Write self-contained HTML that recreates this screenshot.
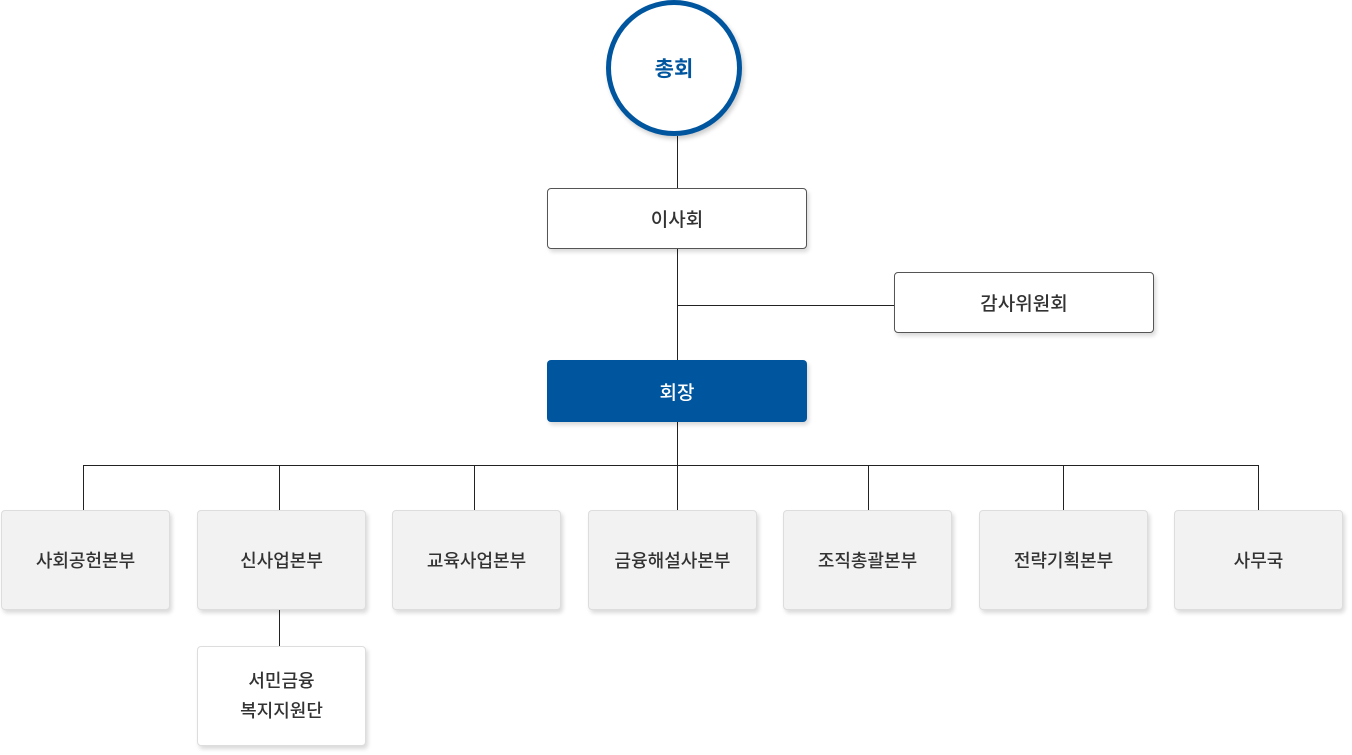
<!DOCTYPE html>
<html><head><meta charset="utf-8"><style>
body{margin:0;width:1352px;height:755px;background:#fff;position:relative;overflow:hidden;font-family:"Liberation Sans","Noto Sans CJK KR",sans-serif;}
.a{position:absolute;box-sizing:border-box;display:flex;align-items:center;justify-content:center;text-align:center;}
.w{background:#fff;border:1px solid #555;border-radius:4px;box-shadow:2px 3px 4px rgba(0,0,0,.15);font-size:19px;color:#333;font-weight:500}
.g{background:#f2f2f2;border:1px solid #ddd;border-radius:4px;box-shadow:2px 3px 4px rgba(0,0,0,.15);font-size:18px;color:#333;width:169px;height:100px;top:510px;font-weight:500}
.l{position:absolute;background:#222}
</style></head><body>
<div class="l" style="left:677px;top:136px;width:1px;height:52px"></div>
<div class="l" style="left:677px;top:248px;width:1px;height:112px"></div>
<div class="l" style="left:677px;top:305px;width:217px;height:1px"></div>
<div class="l" style="left:677px;top:421px;width:1px;height:89px"></div>
<div class="l" style="left:83px;top:465px;width:1176px;height:1px"></div>
<div class="l" style="left:83px;top:465px;width:1px;height:45px"></div>
<div class="l" style="left:279px;top:465px;width:1px;height:45px"></div>
<div class="l" style="left:474px;top:465px;width:1px;height:45px"></div>
<div class="l" style="left:868px;top:465px;width:1px;height:45px"></div>
<div class="l" style="left:1063px;top:465px;width:1px;height:45px"></div>
<div class="l" style="left:1258px;top:465px;width:1px;height:45px"></div>
<div class="l" style="left:279px;top:609px;width:1px;height:37px"></div>
<div class="a" style="left:606px;top:0;width:136px;height:136px;border:5px solid #00559f;border-radius:50%;background:#fff;box-shadow:2px 3px 5px rgba(0,0,0,.2);color:#00559f;font-size:21px;font-weight:bold">총회</div>
<div class="a w" style="left:547px;top:188px;width:260px;height:61px">이사회</div>
<div class="a w" style="left:894px;top:272px;width:260px;height:61px">감사위원회</div>
<div class="a" style="left:547px;top:360px;width:260px;height:62px;background:#00559f;border-radius:4px;color:#fff;font-size:19px;font-weight:500;box-shadow:2px 3px 4px rgba(0,0,0,.15)">회장</div>
<div class="a g" style="left:1px">사회공헌본부</div>
<div class="a g" style="left:197px">신사업본부</div>
<div class="a g" style="left:392px">교육사업본부</div>
<div class="a g" style="left:588px">금융해설사본부</div>
<div class="a g" style="left:783px">조직총괄본부</div>
<div class="a g" style="left:979px">전략기획본부</div>
<div class="a g" style="left:1174px">사무국</div>
<div class="a g" style="left:197px;top:646px;background:#fff;line-height:30px">서민금융<br>복지지원단</div>
</body></html>
